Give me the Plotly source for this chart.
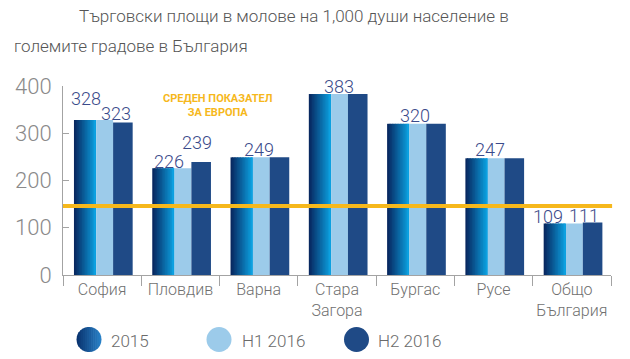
import plotly.graph_objects as go
import math

# ---------------- data ----------------
categories = ["София", "Пловдив", "Варна", "Стара<br>Загора", "Бургас", "Русе", "Общо<br>България"]
series_names = ["2015", "H1 2016", "H2 2016"]
values_2015 = [328, 226, 249, 383, 320, 247, 109]
values_h1 = [328, 226, 249, 383, 320, 247, 109]
values_h2 = [323, 239, 249, 383, 320, 247, 111]
europe_avg = 146
y_ticks = [0, 100, 200, 300, 400]
title_lines = ["Търговски площи в молове на 1,000 души население в",
               "големите градове в България"]
avg_label = "СРЕДЕН ПОКАЗАТЕЛ<br>ЗА ЕВРОПА"
# which values carry a printed label: (category index, series index)
value_labels = [(0, 0), (0, 2), (1, 0), (1, 2), (2, 1), (3, 1), (4, 1), (5, 1), (6, 0), (6, 2)]

# ---------------- style ----------------
W, H = 630, 359
ML, MR, MT, MB = 63, 19, 86, 84
PW, PH = W - ML - MR, H - MT - MB
FONT = "Roboto"
C_H1 = "#9ccbea"
C_H2 = "#1f4a86"
GRAD_L = (8, 40, 96)
GRAD_R = (12, 160, 224)
LBL_COLOR = "#3a4a8a"
AXIS_COLOR = "#a3a3a3"
YELLOW = "#f6b81c"

def px_x(px):
    return (px - ML) / PW

def px_y(py):
    return (MT + PH - py) / PH

def mix(c1, c2, t):
    return "rgb(%d,%d,%d)" % tuple(round(a + (b - a) * t) for a, b in zip(c1, c2))

series_values = [values_2015, values_h1, values_h2]
bar_geom = [(-0.36, 0.285), (-0.075, 0.215), (0.14, 0.25)]  # offset, width

fig = go.Figure()

# 2015 bars with horizontal gradient (drawn as thin slices)
N = 14
off0, w0 = bar_geom[0]
for i in range(N):
    sw = w0 / N
    fig.add_trace(go.Bar(
        x=categories, y=values_2015, offset=off0 + i * sw,
        width=sw * (1.6 if i < N - 1 else 1.0),
        marker=dict(color=mix(GRAD_L, GRAD_R, i / (N - 1)), line=dict(width=0)),
        showlegend=False, hoverinfo="skip"))

fig.add_trace(go.Bar(x=categories, y=values_h1, offset=bar_geom[1][0], width=bar_geom[1][1],
                     marker=dict(color=C_H1, line=dict(width=0)), showlegend=False,
                     name=series_names[1]))
fig.add_trace(go.Bar(x=categories, y=values_h2, offset=bar_geom[2][0], width=bar_geom[2][1],
                     marker=dict(color=C_H2, line=dict(width=0)), showlegend=False,
                     name=series_names[2]))

# European average line
fig.add_shape(type="line", xref="paper", yref="y", x0=0, x1=1.002, y0=europe_avg, y1=europe_avg,
              line=dict(color=YELLOW, width=4), layer="above")

annotations = []
# value labels
label_style = {  # (cat, series): (dx in category units, yshift px)
    (0, 0): (-0.21, 9), (0, 2): (0.18, -4), (1, 0): (-0.14, -6), (1, 2): (0.21, 7),
    (2, 1): (0.0, -5), (3, 1): (0.03, -5), (4, 1): (0.0, -4), (5, 1): (-0.04, -4),
    (6, 0): (-0.30, -5), (6, 2): (0.16, -5),
}
for (ci, si) in value_labels:
    dx, ys = label_style[(ci, si)]
    v = series_values[si][ci]
    annotations.append(dict(x=ci + dx, y=v, xref="x", yref="y", text=str(v), showarrow=False,
                            yanchor="bottom", xanchor="center", yshift=ys,
                            font=dict(family=FONT, size=18, color=LBL_COLOR, weight=300)))

# title
annotations.append(dict(x=px_x(77), y=px_y(16), xref="paper", yref="paper", text=title_lines[0],
                        showarrow=False, xanchor="left", yanchor="middle", align="left",
                        font=dict(family=FONT, size=17, color="#555555", weight=300)))
annotations.append(dict(x=px_x(12), y=px_y(46), xref="paper", yref="paper", text=title_lines[1],
                        showarrow=False, xanchor="left", yanchor="middle", align="left",
                        font=dict(family=FONT, size=17, color="#555555", weight=300)))

# average label
annotations.append(dict(x=px_x(218), y=px_y(105), xref="paper", yref="paper", text=avg_label,
                        showarrow=False, xanchor="center", yanchor="middle",
                        font=dict(family=FONT, size=11, color=YELLOW, weight="bold")))

# legend (manual, circles)
leg_y = 339.5
leg_r = 12.5
leg_items = [(89, 109), (219, 240), (356.5, 376)]
shapes = []
cx0 = leg_items[0][0]
NS = 12
for i in range(NS):
    a = cx0 - leg_r + 2 * leg_r * i / NS
    b = cx0 - leg_r + 2 * leg_r * (i + 1) / NS + (0.6 if i < NS - 1 else 0)
    b = min(b, cx0 + leg_r)
    pts_top, pts_bot = [], []
    steps = 6
    for k in range(steps + 1):
        xx = a + (b - a) * k / steps
        dy = math.sqrt(max(leg_r ** 2 - (xx - cx0) ** 2, 0))
        pts_top.append((xx, leg_y - dy))
        pts_bot.append((xx, leg_y + dy))
    pts = pts_top + pts_bot[::-1]
    path = "M " + " L ".join("%.5f,%.5f" % (px_x(p[0]), px_y(p[1])) for p in pts) + " Z"
    shapes.append(dict(type="path", xref="paper", yref="paper", path=path,
                       fillcolor=mix((10, 52, 112), (40, 128, 198), i / (NS - 1)),
                       line=dict(width=0)))
for (cx, _), col in zip(leg_items[1:], [C_H1, C_H2]):
    shapes.append(dict(type="circle", xref="paper", yref="paper",
                       x0=px_x(cx - leg_r), x1=px_x(cx + leg_r),
                       y0=px_y(leg_y - leg_r), y1=px_y(leg_y + leg_r),
                       fillcolor=col, line=dict(width=0)))
for (cx, tx), name in zip(leg_items, series_names):
    annotations.append(dict(x=px_x(tx), y=px_y(leg_y + 1), xref="paper", yref="paper", text=name,
                            showarrow=False, xanchor="left", yanchor="middle", align="left",
                            font=dict(family=FONT, size=17, color="#6a6a6a", weight=300)))
for s in shapes:
    fig.add_shape(**s)

fig.update_layout(
    width=W, height=H, margin=dict(l=ML, r=MR, t=MT, b=MB, autoexpand=False),
    paper_bgcolor="white", plot_bgcolor="white",
    barmode="overlay", showlegend=False,
    annotations=annotations,
    xaxis=dict(type="category", range=[-0.5, len(categories) - 0.5], showline=True,
               linecolor=AXIS_COLOR, linewidth=1, ticks="outside", tickson="boundaries",
               ticklen=10, tickcolor=AXIS_COLOR, showgrid=False, automargin=False,
               tickangle=0,
               tickfont=dict(family=FONT, size=16, color="#707070", weight=300)),
    yaxis=dict(range=[0, 400], tickvals=y_ticks, showline=True, linecolor=AXIS_COLOR,
               linewidth=1, ticks="inside", ticklen=6, tickcolor=AXIS_COLOR, showgrid=False,
               zeroline=False, ticklabelstandoff=6, automargin=False,
               tickfont=dict(family=FONT, size=22, color="#8a8a8a", weight=300)),
)

fig.write_html("out.html", config={"displayModeBar": False},
               post_script="document.body.style.margin='0';document.body.style.padding='0';")
